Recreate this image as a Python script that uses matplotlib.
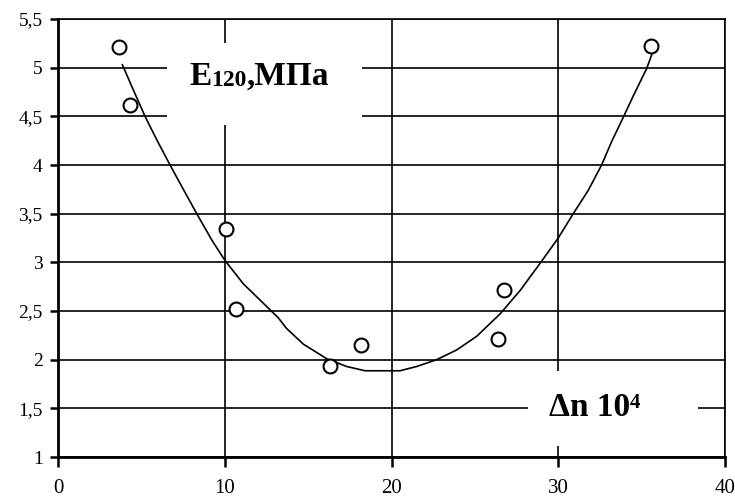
import matplotlib
matplotlib.use("Agg")
import matplotlib.pyplot as plt
from matplotlib.patches import Rectangle
from matplotlib.ticker import FuncFormatter

# measured points (dn*10^4, E120 MPa)
dn = [3.66, 4.32, 10.07, 10.67, 16.31, 18.15, 26.41, 26.75, 35.54]
e120 = [5.21, 4.62, 3.34, 2.52, 1.94, 2.15, 2.21, 2.72, 5.22]

# trend curve
curve_x = [3.86, 4.52, 5.22, 5.92, 6.72, 7.42, 8.32, 9.22, 10.01, 11.11, 12.31,
           13.21, 13.71, 14.71, 16.11, 17.31, 18.41, 20.51, 21.51, 22.71, 23.91,
           25.11, 26.51, 27.71, 28.91, 30.0, 30.9, 31.8, 32.6, 33.2, 33.9, 34.5,
           35.3, 35.6]
curve_y = [5.03, 4.77, 4.50, 4.26, 4.0, 3.78, 3.50, 3.23, 3.02, 2.78, 2.58,
           2.43, 2.32, 2.16, 2.01, 1.93, 1.886, 1.886, 1.93, 2.0, 2.1,
           2.24, 2.47, 2.71, 2.99, 3.25, 3.50, 3.74, 4.0, 4.24, 4.49, 4.71,
           4.99, 5.13]

x_ticks = [0, 10, 20, 30, 40]
y_ticks = [1, 1.5, 2, 2.5, 3, 3.5, 4, 4.5, 5, 5.5]

plt.rcParams['font.family'] = ['Liberation Serif', 'DejaVu Serif']

fig = plt.figure(figsize=(7.35, 4.99), dpi=100)
ax = fig.add_axes([58/735, 1 - 457/499, 667/735, 438/499])

ax.set_xlim(0, 40)
ax.set_ylim(1, 5.5)
ax.set_xticks(x_ticks)
ax.set_yticks(y_ticks)
ax.yaxis.set_major_formatter(FuncFormatter(lambda v, p: ('%g' % v).replace('.', ',')))
ax.tick_params(axis='y', labelsize=14, length=6, width=1.8, direction='out', pad=5)
ax.tick_params(axis='x', labelsize=15, length=7, width=1.8, direction='out', pad=9)

ax.set_axisbelow(True)
ax.grid(True, color='black', linewidth=1.2)
for s in ['left', 'bottom']:
    ax.spines[s].set_linewidth(2.0)
for s in ['top', 'right']:
    ax.spines[s].set_linewidth(1.2)

# white boxes behind the labels hiding the grid
ax.add_patch(Rectangle((0.163, 0.758), 0.293, 0.187, transform=ax.transAxes,
                       facecolor='white', edgecolor='none', zorder=1.5))
ax.add_patch(Rectangle((0.705, 0.025), 0.255, 0.171, transform=ax.transAxes,
                       facecolor='white', edgecolor='none', zorder=1.5))

ax.plot(curve_x, curve_y, color='black', linewidth=1.2, zorder=3)
ax.plot(dn, e120, linestyle='none', marker='o', markersize=10,
        markerfacecolor='white', markeredgecolor='black', markeredgewidth=1.5, zorder=4)

# E120,MPa label
t1 = ax.text(7.86, 4.82, "E", fontsize=24, fontweight='bold', va='baseline', zorder=5)
t2 = ax.annotate("120", xy=(1, 0), xycoords=t1, xytext=(0, 1.0), textcoords='offset points',
                 fontsize=17, fontweight='bold', va='bottom', zorder=5)
ax.annotate(",МПа", xy=(1, 0), xycoords=(t2, t1), fontsize=24, fontweight='bold',
            va='bottom', zorder=5)

# dn 10^4 label
t3 = ax.text(29.45, 1.42, "Δn 10", fontsize=24, fontweight='bold', va='baseline', zorder=5)
ax.annotate("4", xy=(1, 1), xycoords=t3, xytext=(0, -0.5), textcoords='offset points',
            fontsize=15, fontweight='bold', va='top', zorder=5)

fig.savefig("out.png", dpi=100)
